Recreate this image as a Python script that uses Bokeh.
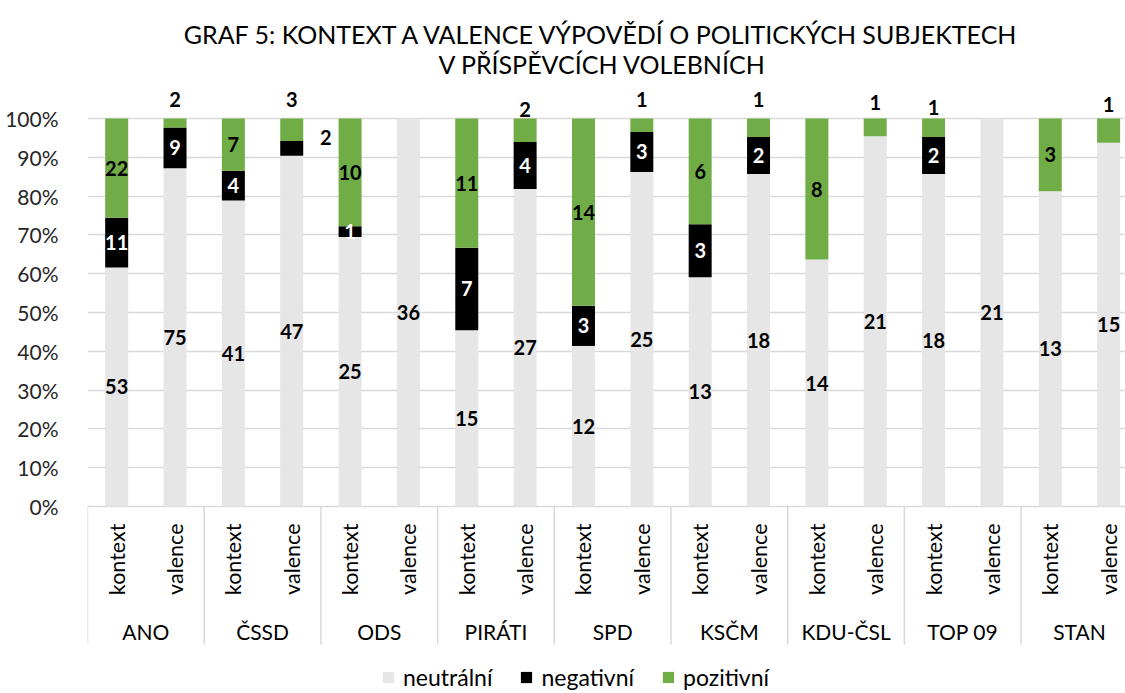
import math
from bokeh.plotting import figure
from bokeh.models import (ColumnDataSource, Range1d, FixedTicker, NumeralTickFormatter,
                          Label, Legend, LegendItem)
from bokeh.core.properties import value
from bokeh.embed import file_html
from bokeh.resources import INLINE

# ---------------- data ----------------
title_lines = ["GRAF 5: KONTEXT A VALENCE VÝPOVĚDÍ O POLITICKÝCH SUBJEKTECH",
               "V PŘÍSPĚVCÍCH VOLEBNÍCH"]
parties = ["ANO", "ČSSD", "ODS", "PIRÁTI", "SPD", "KSČM", "KDU-ČSL", "TOP 09", "STAN"]
subs = ["kontext", "valence"]
series = ["neutrální", "negativní", "pozitivní"]

neutral_kontext = [53, 41, 25, 15, 12, 13, 14, 18, 13]
negative_kontext = [11, 4, 1, 7, 3, 3, 0, 2, 0]
positive_kontext = [22, 7, 10, 11, 14, 6, 8, 1, 3]

neutral_valence = [75, 47, 36, 27, 25, 18, 21, 21, 15]
negative_valence = [9, 2, 0, 4, 3, 2, 0, 0, 0]
positive_valence = [2, 3, 0, 2, 1, 1, 1, 0, 1]

y_ticks = [0.0, 0.1, 0.2, 0.3, 0.4, 0.5, 0.6, 0.7, 0.8, 0.9, 1.0]

# ---------------- styles / layout ----------------
colors = ["#E6E6E6", "#000000", "#70AD47"]
label_colors = ["#000000", "#FFFFFF", "#000000"]
FONT = "Lato"
W, H = 1125, 693
LEFT = 87            # frame left edge (px)
UNIT_X = 58.35       # px per bar slot
Y0_PX = 506          # px of 0 %
SCALE_Y = 388        # px per 100 %
BAR_W = 0.394

# labels placed above the bar (px above the 100 % line)
above = {("ANO", "valence"): 19, ("ČSSD", "valence"): 19, ("PIRÁTI", "valence"): 9,
         ("SPD", "valence"): 19, ("KSČM", "valence"): 19, ("KDU-ČSL", "valence"): 16,
         ("TOP 09", "kontext"): 11, ("STAN", "valence"): 14}
# manually moved labels (dx, dy px)
moved = {("ČSSD", "valence", 1): (34, -11)}

# ---------------- build sources ----------------
xs, neu, neg, pos, names = [], [], [], [], []
raw = []
for g, party in enumerate(parties):
    for s, sub in enumerate(subs):
        if sub == "kontext":
            vals = [neutral_kontext[g], negative_kontext[g], positive_kontext[g]]
        else:
            vals = [neutral_valence[g], negative_valence[g], positive_valence[g]]
        tot = float(sum(vals))
        xs.append(2 * g + s + 0.5)
        neu.append(vals[0] / tot)
        neg.append(vals[1] / tot)
        pos.append(vals[2] / tot)
        names.append((party, sub))
        raw.append(vals)

src = ColumnDataSource(dict(x=xs, neu=neu, neg=neg, pos=pos))

p = figure(width=W, height=H, output_backend="svg", toolbar_location=None,
           x_range=Range1d(0, (W - LEFT) / UNIT_X),
           y_range=Range1d((Y0_PX - H) / SCALE_Y, Y0_PX / SCALE_Y),
           x_axis_location=None, y_axis_location="left",
           min_border_left=LEFT, min_border_right=0, min_border_top=0, min_border_bottom=0)
p.outline_line_color = None
p.background_fill_color = "white"
p.border_fill_color = "white"
p.xgrid.visible = False
p.ygrid.ticker = FixedTicker(ticks=y_ticks)
p.ygrid.grid_line_color = "#D9D9D9"
p.ygrid.grid_line_width = 1.5

ax = p.yaxis[0]
ax.ticker = FixedTicker(ticks=y_ticks)
ax.formatter = NumeralTickFormatter(format="0%")
ax.axis_line_color = None
ax.major_tick_line_color = None
ax.minor_tick_line_color = None
ax.major_label_standoff = 23
ax.major_label_text_font = FONT
ax.major_label_text_font_size = "21px"
ax.major_label_text_color = "#262626"

rends = p.vbar_stack(["neu", "neg", "pos"], x="x", width=BAR_W, fill_color=colors,
                     line_color=None, source=src)

# separators of the category axis
n_groups = len(parties)
sep_x = [2 * g for g in range(n_groups + 1)]
p.segment(x0=sep_x, y0=[0] * len(sep_x), x1=sep_x,
          y1=[(Y0_PX - 644) / SCALE_Y] * len(sep_x), line_color="#D9D9D9", line_width=1.5)

# sub-category labels (rotated)
p.text(x=xs, y=[0] * len(xs), text=[n[1] for n in names], angle=math.pi / 2,
       text_align="right", text_baseline="middle", y_offset=17,
       text_font=value(FONT), text_font_size="21.5px", text_color="#000000")
# group labels
p.text(x=[2 * g + 1 for g in range(n_groups)], y=[0] * n_groups, text=parties,
       text_align="center", text_baseline="middle", y_offset=125,
       text_font=value(FONT), text_font_size="21px", text_color="#000000")

# data labels
lx, ly, lt, lc, lxo, lyo = [], [], [], [], [], []
for i, (x, vals) in enumerate(zip(xs, raw)):
    fr = [neu[i], neg[i], pos[i]]
    base = 0.0
    for k in range(3):
        v = vals[k]
        if v > 0:
            key = names[i]
            if k == 2 and key in above:
                lx.append(x); ly.append(1.0); lxo.append(0); lyo.append(-above[key])
                lc.append("#000000")
            else:
                dx, dy = moved.get((key[0], key[1], k), (0, 0))
                lx.append(x); ly.append(base + fr[k] / 2); lxo.append(dx); lyo.append(dy)
                lc.append("#000000" if (key[0], key[1], k) in moved else label_colors[k])
            lt.append(str(v))
        base += fr[k]

lsrc = ColumnDataSource(dict(x=lx, y=ly, t=lt, c=lc, xo=lxo, yo=lyo))
p.text(x="x", y="y", text="t", text_color="c", x_offset="xo", y_offset="yo", source=lsrc,
       text_align="center", text_baseline="middle",
       text_font=value(FONT), text_font_style="bold", text_font_size="20px")

# title
for j, line in enumerate(title_lines):
    p.add_layout(Label(x=(602 - LEFT), y=H - 33 - 30 * j, x_units="screen", y_units="screen",
                       text=line, text_align="center", text_baseline="middle",
                       text_font=FONT, text_font_size="25px", text_color="#000000"))

# legend
legend = Legend(items=[LegendItem(label=series[k], renderers=[rends[k]]) for k in range(3)],
                location=(294, 2), orientation="horizontal",
                glyph_width=14, glyph_height=14, label_standoff=8, spacing=27,
                padding=0, margin=0, border_line_color=None, background_fill_alpha=0,
                label_text_font=FONT, label_text_font_size="23px", label_text_color="#000000")
p.add_layout(legend)

open("out.html", "w").write(file_html(p, INLINE))
